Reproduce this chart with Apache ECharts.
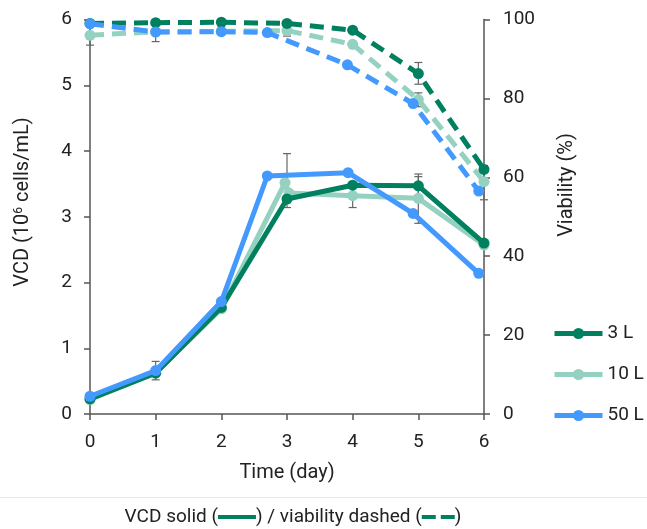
<!DOCTYPE html>
<html>
<head>
<meta charset="utf-8">
<script src="https://cdn.jsdelivr.net/npm/echarts@6/dist/echarts.min.js"></script>
<style>
html,body{margin:0;padding:0;background:#fff;}
#c{width:647px;height:529px;}
</style>
</head>
<body>
<div id="c"></div>
<script>
// ---- data ----
const seriesNames = ['3 L', '10 L', '50 L'];
const xTicks = [0, 1, 2, 3, 4, 5, 6];
const vcdTicks = [0, 1, 2, 3, 4, 5, 6];
const viaTicks = [0, 20, 40, 60, 80, 100];

// VCD (10^6 cells/mL)
const vcd3X = [0, 1, 2, 3, 4, 5, 6];
const vcd3Y = [0.23, 0.62, 1.62, 3.27, 3.48, 3.47, 2.60];
const vcd10X = [0, 1, 2, 2.97, 3.03, 4, 5, 6];
const vcd10Y = [0.22, 0.63, 1.60, 3.52, 3.36, 3.32, 3.28, 2.57];
const vcd50X = [0, 1, 2, 2.7, 3.93, 4.92, 5.92];
const vcd50Y = [0.27, 0.66, 1.71, 3.62, 3.67, 3.05, 2.14];

// Viability (%)
const via3X = [0, 1, 2, 3, 4, 5, 6];
const via3Y = [99.0, 99.2, 99.3, 99.0, 97.3, 86.3, 62.0];
const via10X = [0, 1, 2, 3, 4, 5, 6];
const via10Y = [96.0, 96.9, 97.0, 97.2, 93.7, 79.7, 58.9];
const via50X = [0, 1, 2, 2.7, 3.92, 4.92, 5.92];
const via50Y = [98.9, 96.8, 96.9, 96.7, 88.5, 78.7, 56.5];

// error bars
const vcdErrX = [1, 3, 4, 5, 5];
const vcdErrLow = [0.52, 3.14, 3.14, 2.90, 3.30];
const vcdErrHigh = [0.80, 3.96, 3.50, 3.65, 3.61];
const viaErrX = [0, 1, 3, 5, 5, 6];
const viaErrLow = [93.5, 94.4, 95.8, 83.6, 77.9, 54.3];
const viaErrHigh = [98.5, 99.5, 98.6, 89.1, 81.4, 63.0];

const colors = ['#00805f', '#94d1c0', '#4499ff'];
const FONT = 'Roboto, "Noto Sans", sans-serif';

function pairs(xs, ys) { return xs.map((x, i) => [x, ys[i]]); }
function errData(xs, lo, hi) { return xs.map((x, i) => [x, lo[i], hi[i]]); }

function errRender(params, api) {
  const x = api.value(0), lo = api.value(1), hi = api.value(2);
  const pLo = api.coord([x, lo]);
  const pHi = api.coord([x, hi]);
  const w = 4;
  const st = { stroke: '#666', lineWidth: 1.2 };
  return {
    type: 'group',
    children: [
      { type: 'line', shape: { x1: pLo[0], y1: pLo[1], x2: pHi[0], y2: pHi[1] }, style: st },
      { type: 'line', shape: { x1: pLo[0] - w, y1: pLo[1], x2: pLo[0] + w, y2: pLo[1] }, style: st },
      { type: 'line', shape: { x1: pHi[0] - w, y1: pHi[1], x2: pHi[0] + w, y2: pHi[1] }, style: st }
    ]
  };
}

const solid = [[vcd3X, vcd3Y], [vcd10X, vcd10Y], [vcd50X, vcd50Y]];
const dashed = [[via3X, via3Y], [via10X, via10Y], [via50X, via50Y]];
const zOrder = [3, 2, 4];

const series = [];
series.push({
  type: 'custom', name: 'errVCD', yAxisIndex: 0, z: 1, silent: true,
  renderItem: errRender, data: errData(vcdErrX, vcdErrLow, vcdErrHigh)
});
series.push({
  type: 'custom', name: 'errVia', yAxisIndex: 1, z: 1, silent: true,
  renderItem: errRender, data: errData(viaErrX, viaErrLow, viaErrHigh)
});
solid.forEach((d, i) => {
  series.push({
    type: 'line', name: seriesNames[i], yAxisIndex: 0, z: zOrder[i],
    data: pairs(d[0], d[1]), symbol: 'circle', symbolSize: 11,
    color: colors[i],
    lineStyle: { width: 5, color: colors[i] },
    itemStyle: { color: colors[i] }
  });
});
dashed.forEach((d, i) => {
  series.push({
    type: 'line', name: seriesNames[i], yAxisIndex: 1, z: zOrder[i],
    data: pairs(d[0], d[1]), symbol: 'circle', symbolSize: 11,
    color: colors[i],
    lineStyle: { width: 5, color: colors[i], type: [14, 8], cap: 'butt' },
    itemStyle: { color: colors[i] }
  });
});

const axisLineStyle = { color: '#555', width: 1.5 };
const labelStyle = { color: '#222', fontSize: 19, fontFamily: FONT };

const option = {
  animation: false,
  backgroundColor: '#fff',
  grid: { left: 90, right: 163, top: 19.5, bottom: 115 },
  xAxis: {
    type: 'value', min: 0, max: 6, interval: 1,
    axisLine: { show: true, lineStyle: axisLineStyle },
    axisTick: { show: true, length: 6, lineStyle: axisLineStyle },
    axisLabel: Object.assign({ margin: 19 }, labelStyle),
    splitLine: { show: false }
  },
  yAxis: [
    {
      type: 'value', min: 0, max: 6, interval: 1, position: 'left',
      axisLine: { show: true, lineStyle: axisLineStyle },
      axisTick: { show: true, length: 6, lineStyle: axisLineStyle },
      axisLabel: Object.assign({ margin: 18 }, labelStyle),
      splitLine: { show: false }
    },
    {
      type: 'value', min: 0, max: 100, interval: 20, position: 'right',
      axisLine: { show: true, lineStyle: axisLineStyle },
      axisTick: { show: true, length: 6, lineStyle: axisLineStyle },
      axisLabel: Object.assign({ margin: 19 }, labelStyle),
      splitLine: { show: false }
    }
  ],
  legend: {
    data: seriesNames,
    orient: 'vertical', left: 547, top: 319,
    itemWidth: 48, itemHeight: 14, itemGap: 22,
    lineStyle: { width: 5 },
    textStyle: { color: '#222', fontSize: 19, fontFamily: FONT }
  },
  graphic: [
    {
      type: 'text', x: 23, y: 202, rotation: Math.PI / 2,
      style: {
        text: 'VCD (10{sup|6} cells/mL)',
        font: '20px ' + FONT, fill: '#222',
        textAlign: 'center', textVerticalAlign: 'middle',
        align: 'center', verticalAlign: 'middle',
        rich: { sup: { fontSize: 12, fontFamily: FONT, fill: '#222', padding: [0, 0, 9, 0] } }
      }
    },
    {
      type: 'text', x: 567, y: 185, rotation: Math.PI / 2,
      style: {
        text: 'Viability (%)',
        font: '20px ' + FONT, fill: '#222',
        textAlign: 'center', textVerticalAlign: 'middle',
        align: 'center', verticalAlign: 'middle'
      }
    },
    {
      type: 'text', x: 287, y: 473,
      style: {
        text: 'Time (day)',
        font: '20px ' + FONT, fill: '#222',
        textAlign: 'center', textVerticalAlign: 'middle',
        align: 'center', verticalAlign: 'middle'
      }
    },
    {
      type: 'line', shape: { x1: 0, y1: 497.5, x2: 647, y2: 497.5 },
      style: { stroke: '#e6e6e6', lineWidth: 1 }
    },
    {
      type: 'text', x: 293, y: 517,
      style: {
        text: 'VCD solid ({s| }) / viability dashed ({d| }{g| }{d| })',
        font: '19px ' + FONT, fill: '#222',
        textAlign: 'center', textVerticalAlign: 'middle',
        align: 'center', verticalAlign: 'middle',
        rich: {
          s: { width: 38, height: 4, backgroundColor: '#00805f', fontSize: 4 },
          d: { width: 14, height: 4, backgroundColor: '#00805f', fontSize: 4 },
          g: { width: 5, height: 4, fontSize: 4 }
        }
      }
    }
  ],
  series: series
};

const chart = echarts.init(document.getElementById('c'), null, { renderer: 'canvas' });
chart.setOption(option);
</script>
</body>
</html>
